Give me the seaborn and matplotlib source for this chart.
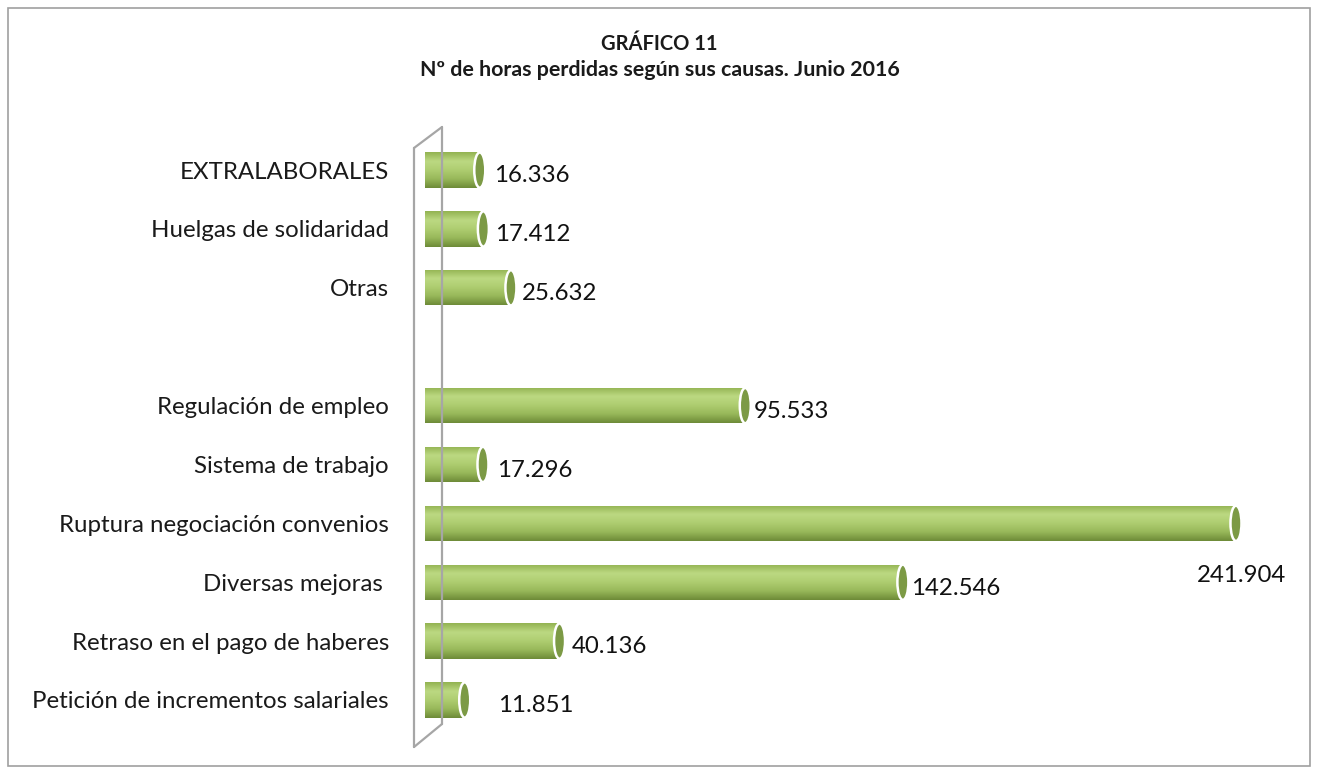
import numpy as np
import pandas as pd
import matplotlib
matplotlib.use("Agg")
import matplotlib.pyplot as plt
from matplotlib.patches import Ellipse, Rectangle
from matplotlib.lines import Line2D
from matplotlib.colors import LinearSegmentedColormap
import seaborn as sns

causas = ["EXTRALABORALES", "Huelgas de solidaridad", "Otras", " ",
          "Regulación de empleo", "Sistema de trabajo", "Ruptura negociación convenios",
          "Diversas mejoras ", "Retraso en el pago de haberes",
          "Petición de incrementos salariales"]
horas = [16336, 17412, 25632, 0, 95533, 17296, 241904, 142546, 40136, 11851]
etiquetas = ["16.336", "17.412", "25.632", "", "95.533", "17.296", "241.904",
             "142.546", "40.136", "11.851"]

df = pd.DataFrame({"causa": causas, "horas": horas})

sns.set_theme(style="white")
plt.rcParams["font.family"] = ["Lato", "DejaVu Sans"]

fig = plt.figure(figsize=(13.19, 7.74), dpi=100)
ax = fig.add_axes([425 / 1319, 0.0576, 875 / 1319, 0.8183 - 0.0576])

sns.barplot(data=df, y="causa", x="horas", order=causas, orient="h",
            color="#a3c363", width=0.6, ax=ax, linewidth=0)

ax.set_xlim(0, 261000)
ax.set_ylim(len(causas) - 0.5, -0.5)
ax.set_xlabel("")
ax.set_ylabel("")
ax.set_xticks([])
ax.tick_params(axis="y", length=0, pad=26, labelsize=17.3)
for s in ax.spines.values():
    s.set_visible(False)
for lab in ax.get_yticklabels():
    lab.set_color("#1a1a1a")

# cylinder shading
grad = LinearSegmentedColormap.from_list(
    "cil", ["#93b352", "#bcd982", "#aecd70", "#98b85a", "#6e8b38"])
g = np.linspace(0, 1, 64).reshape(-1, 1)
px = 875 / 261000  # pixels per unit
cap_w = 11 / px
for i, p in enumerate(ax.patches):
    w = p.get_width()
    if w <= 0:
        continue
    y0, h = p.get_y(), p.get_height()
    im = ax.imshow(g, cmap=grad, aspect="auto", extent=(0, w, y0 + h, y0),
                   zorder=2, interpolation="bicubic")
    im.set_clip_path(p)
    ax.add_patch(Ellipse((w, y0 + h / 2), cap_w, h, facecolor="#7c9a45",
                         edgecolor="white", linewidth=1.8, zorder=3))

ax.set_xlim(0, 261000)
ax.set_ylim(len(causas) - 0.5, -0.5)

# data labels
extra = [6, 4, 3, 0, 0, 6, 0, 0, 4, 25]
for i, (v, t) in enumerate(zip(horas, etiquetas)):
    if not t:
        continue
    if v == max(horas):
        ax.text(v + 50 / px, i + 0.88, t, ha="right", va="center",
                fontsize=17.3, color="#111111", zorder=4)
    else:
        ax.text(v + (8 + extra[i]) / px, i + 0.1, t, ha="left", va="center",
                fontsize=17.3, color="#111111", zorder=4)

# 3D wall
W, H = 1319, 774
def fl(xs, ys):
    fig.add_artist(Line2D([x / W for x in xs], [1 - y / H for y in ys],
                          color="#a6a6a6", linewidth=1.6))
fl([414, 414], [148, 747])
fl([442, 442], [127, 724])
fl([414, 442], [148, 127])
fl([414, 442], [747, 724])

# titles
fig.text(0.5, 1 - 44 / H, "GRÁFICO 11", ha="center", va="center",
         fontsize=14.5, fontweight="bold", color="#1a1a1a")
fig.text(0.5, 1 - 70 / H, "Nº de horas perdidas según sus causas. Junio 2016",
         ha="center", va="center", fontsize=15.4, fontweight="bold", color="#1a1a1a")

# outer frame
fig.add_artist(Rectangle((8 / W, 8 / H), 1302 / W, 758 / H, fill=False,
                         edgecolor="#a0a0a0", linewidth=1.2,
                         transform=fig.transFigure))

fig.savefig("out.png", dpi=100)
